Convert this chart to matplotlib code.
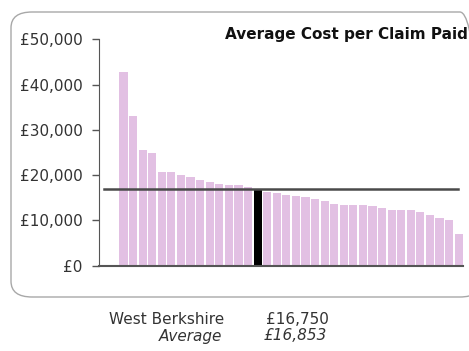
import numpy as np
import matplotlib.pyplot as plt
from matplotlib.patches import FancyBboxPatch

costs = [42700, 33000, 25600, 25000, 20600, 20600, 20100, 19500, 19000, 18400,
         18100, 17900, 17900, 17400, 16750, 16250, 16000, 15700, 15300, 15100,
         14750, 14400, 13700, 13500, 13500, 13500, 13200, 12700, 12300, 12200,
         12200, 11900, 11200, 10550, 10100, 6900]
highlight = 14  # West Berkshire
average = 16853
yticks = [0, 10000, 20000, 30000, 40000, 50000]
ytick_labels = ["£0", "£10,000", "£20,000", "£30,000", "£40,000", "£50,000"]

fig = plt.figure(figsize=(4.69, 3.51), dpi=100)

# rounded frame around the chart
box = FancyBboxPatch((11 / 469, 54 / 351), 470 / 469, 285 / 351,
                     boxstyle="round,pad=0,rounding_size=0.045",
                     transform=fig.transFigure, facecolor="none",
                     edgecolor="#a8a8a8", linewidth=1.0, zorder=-5)
fig.patches.append(box)

ax = fig.add_axes([0.2117, 0.243, 0.7755, 0.645])
ax.patch.set_visible(False)

x = np.arange(len(costs))
colors = ["#e2c0e3"] * len(costs)
colors[highlight] = "black"
bars = ax.bar(x, costs, width=0.85, color=colors, linewidth=0)
bars[highlight].set_width(0.9)
bars[highlight].set_clip_on(False)
bars[highlight].set_y(-300)
bars[highlight].set_height(costs[highlight] + 300)

ax.axhline(average, xmin=0.013, xmax=0.986, color="#4a4a4a", linewidth=1.8)

ax.set_xlim(-2.53, 35.45)
ax.set_ylim(0, 50000)
ax.set_yticks(yticks)
ax.set_yticklabels(ytick_labels, fontsize=11, color="#333333")
ax.set_xticks([])
ax.tick_params(axis="y", length=5, width=1, color="#555555", pad=7)
for s in ["top", "right"]:
    ax.spines[s].set_visible(False)
ax.spines["left"].set_color("#555555")
ax.spines["bottom"].set_color("#555555")
ax.spines["bottom"].set_linewidth(1.5)

fig.text(468 / 469, 1 - 34 / 351, "Average Cost per Claim Paid", ha="right",
         va="center", fontsize=11, fontweight="bold", color="#111111")

fig.text(224 / 469, 1 - 319 / 351, "West Berkshire", ha="right", va="center",
         fontsize=11, color="#333333")
fig.text(266 / 469, 1 - 319 / 351, "£16,750", ha="left", va="center",
         fontsize=11, color="#333333")
fig.text(222 / 469, 1 - 336 / 351, "Average", ha="right", va="center",
         fontsize=11, style="italic", color="#333333")
fig.text(264 / 469, 1 - 336 / 351, "£16,853", ha="left", va="center",
         fontsize=11, style="italic", color="#333333")

fig.savefig("out.png", dpi=100)
